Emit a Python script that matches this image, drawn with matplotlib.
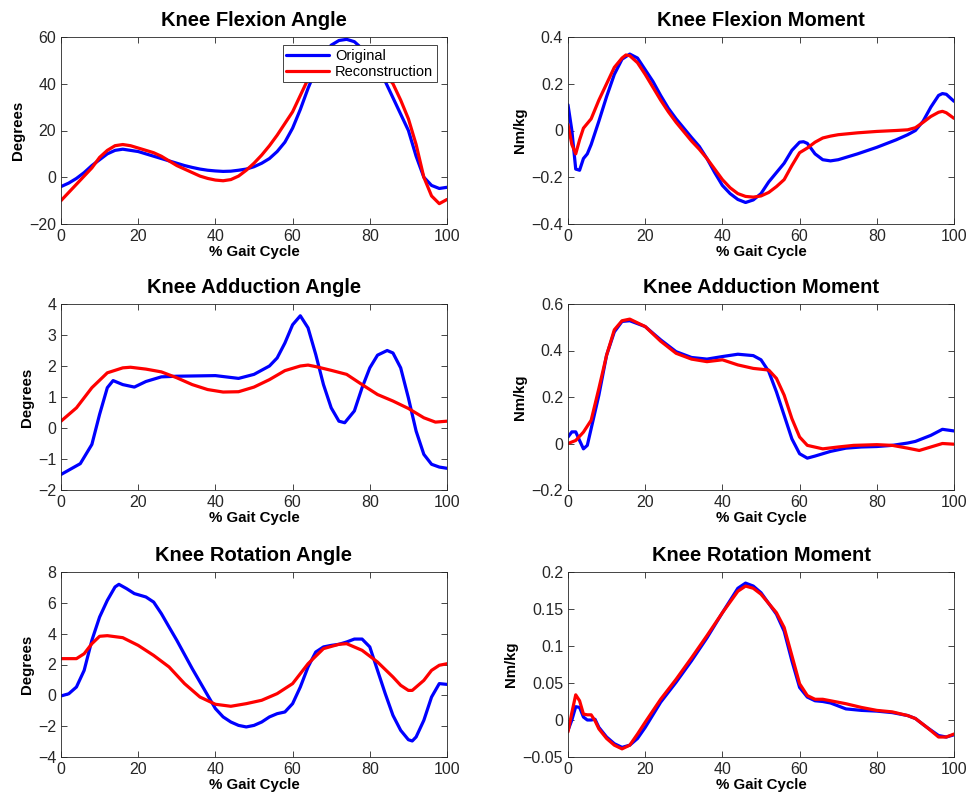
import matplotlib
matplotlib.use("Agg")
import matplotlib.pyplot as plt

plt.rcParams['font.family'] = ['Liberation Sans', 'DejaVu Sans']

# ---------------- data ----------------
titles = ["Knee Flexion Angle", "Knee Flexion Moment",
          "Knee Adduction Angle", "Knee Adduction Moment",
          "Knee Rotation Angle", "Knee Rotation Moment"]
ylabels = ["Degrees", "Nm/kg", "Degrees", "Nm/kg", "Degrees", "Nm/kg"]
xlabel_text = "% Gait Cycle"
legend_labels = ["Original", "Reconstruction"]
xticks = [0, 20, 40, 60, 80, 100]

# Knee Flexion Angle
fa_x_orig = [0, 2, 4, 6, 8, 10, 12, 14, 16, 18, 20, 22, 24, 26, 28, 30, 32, 34, 36, 38, 40, 42, 44, 46, 48,
             50, 52, 54, 56, 58, 60, 62, 64, 66, 68, 70, 72, 74, 76, 78, 80, 82, 84, 86, 88, 90, 92, 94, 96, 98, 100]
fa_y_orig = [-4, -2.5, -0.5, 2, 5, 7.5, 10, 11.5, 12, 11.5, 11, 10, 9, 8, 7, 6, 5, 4.2, 3.5, 3, 2.7, 2.5, 2.6, 3, 3.5,
             4.5, 6, 8, 11, 15, 21, 29, 38, 46, 52.5, 56.5, 58.5, 59, 58, 55, 51, 46, 41, 34, 27, 20, 9, 0, -3.5, -4.8, -4.3]
fa_x_rec = [0, 2, 4, 6, 8, 10, 12, 14, 16, 18, 20, 22, 24, 26, 28, 30, 32, 34, 36, 38, 40, 42, 44, 46, 48,
            50, 52, 54, 56, 58, 60, 62, 64, 66, 68, 70, 72, 74, 76, 78, 80, 82, 84, 86, 88, 90, 92, 94, 96, 98, 100]
fa_y_rec = [-10, -6.5, -3, 0.5, 4, 8.5, 11.5, 13.5, 14, 13.5, 12.5, 11.5, 10.5, 9, 7, 5, 3.5, 2, 0.5, -0.5, -1.2, -1.5, -1, 0.5, 3,
            6, 9.5, 13.5, 18, 23, 28, 35, 42, 47.5, 51.5, 54, 55.3, 55.6, 55, 53.5, 51, 47.5, 44, 40, 33, 25, 14, 0, -8, -11.3, -9.5]

# Knee Flexion Moment
fm_x_orig = [0, 1, 2, 3, 4, 5, 6, 8, 10, 12, 14, 16, 18, 20, 22, 24, 26, 28, 30, 32, 34, 36, 38, 40, 42, 44, 46, 48,
             50, 52, 54, 56, 58, 60, 61, 62, 64, 66, 68, 70, 75, 80, 85, 88, 90, 92, 94, 96, 97, 98, 100]
fm_y_orig = [0.11, 0.0, -0.165, -0.17, -0.12, -0.1, -0.06, 0.04, 0.145, 0.24, 0.305, 0.327, 0.31, 0.26, 0.21, 0.15, 0.095,
             0.05, 0.01, -0.03, -0.068, -0.12, -0.18, -0.235, -0.27, -0.295, -0.308, -0.297,
             -0.27, -0.22, -0.18, -0.14, -0.085, -0.05, -0.048, -0.055, -0.1, -0.125, -0.13, -0.125, -0.1, -0.072, -0.04,
             -0.018, 0.0, 0.04, 0.1, 0.15, 0.158, 0.155, 0.125]
fm_x_rec = [0, 1, 2, 3, 4, 5, 6, 8, 10, 12, 14, 15, 16, 18, 20, 22, 24, 26, 28, 30, 32, 34, 36, 38, 40, 42, 44, 46, 48,
            50, 52, 54, 56, 58, 60, 62, 64, 66, 68, 70, 75, 80, 85, 88, 90, 92, 94, 96, 97, 98, 100]
fm_y_rec = [0.025, -0.06, -0.1, -0.04, 0.01, 0.03, 0.05, 0.13, 0.2, 0.27, 0.31, 0.323, 0.32, 0.29, 0.24, 0.185, 0.13, 0.08,
            0.035, -0.005, -0.045, -0.08, -0.12, -0.165, -0.21, -0.245, -0.27, -0.282, -0.285,
            -0.28, -0.265, -0.24, -0.21, -0.15, -0.095, -0.075, -0.05, -0.032, -0.024, -0.018, -0.01, -0.004, 0.0,
            0.003, 0.012, 0.035, 0.06, 0.078, 0.082, 0.076, 0.052]

# Knee Adduction Angle
aa_x_orig = [0, 5, 8, 10, 12, 13.5, 16, 19, 22, 26, 30, 40, 46, 50, 54, 56, 58, 60, 62, 64, 66, 68, 70, 72, 73.5,
             76, 78, 80, 82, 84.5, 86, 88, 90, 92, 94, 96, 98, 100]
aa_y_orig = [-1.5, -1.15, -0.53, 0.44, 1.3, 1.53, 1.4, 1.32, 1.5, 1.65, 1.67, 1.69, 1.6, 1.73, 2.0, 2.26, 2.74, 3.33, 3.62,
             3.23, 2.37, 1.4, 0.65, 0.22, 0.17, 0.55, 1.3, 1.94, 2.35, 2.5, 2.42, 1.94, 0.97, -0.1, -0.85, -1.17, -1.26, -1.3]
aa_x_rec = [0, 4, 8, 12, 16, 18, 22, 26, 30, 34, 38, 42, 46, 50, 54, 58, 62, 64, 66, 70, 74, 78, 82, 86, 90, 94, 97, 100]
aa_y_rec = [0.22, 0.65, 1.3, 1.78, 1.94, 1.96, 1.9, 1.81, 1.62, 1.4, 1.24, 1.16, 1.17, 1.32, 1.56, 1.85, 2.0, 2.03, 1.98,
            1.86, 1.73, 1.4, 1.08, 0.87, 0.63, 0.33, 0.19, 0.22]

# Knee Adduction Moment
am_x_orig = [0, 1, 2, 3, 4, 5, 6, 8, 10, 12, 14, 16, 20, 24, 28, 32, 36, 40, 44, 48, 50, 52, 54, 56, 58, 60, 62, 64,
             68, 72, 76, 80, 84, 88, 90, 94, 97, 100]
am_y_orig = [0.028, 0.05, 0.05, 0.013, -0.023, -0.008, 0.064, 0.208, 0.38, 0.48, 0.525, 0.528, 0.503, 0.446, 0.395, 0.37,
             0.363, 0.374, 0.384, 0.378, 0.36, 0.31, 0.222, 0.121, 0.02, -0.044, -0.063, -0.054, -0.034, -0.02, -0.015,
             -0.013, -0.008, 0.002, 0.009, 0.035, 0.061, 0.054]
am_x_rec = [0, 2, 4, 6, 8, 10, 12, 14, 16, 20, 24, 28, 32, 36, 40, 44, 48, 52, 54, 56, 58, 60, 62, 66, 70, 74, 80, 84,
            88, 91, 94, 97, 100]
am_y_rec = [0.0, 0.013, 0.049, 0.1, 0.237, 0.38, 0.489, 0.528, 0.535, 0.503, 0.44, 0.388, 0.363, 0.352, 0.36, 0.338, 0.323,
            0.316, 0.28, 0.208, 0.107, 0.028, -0.008, -0.023, -0.015, -0.008, -0.005, -0.008, -0.02, -0.03, -0.015, 0.0,
            -0.003]

# Knee Rotation Angle
ra_x_orig = [0, 2, 4, 6, 8, 10, 12, 14, 15, 17, 19, 22, 24, 26, 28, 30, 34, 38, 40, 42, 44, 46, 48, 50, 52, 54, 56, 58,
             60, 62, 64, 66, 68, 70, 72, 74, 76, 78, 80, 82, 84, 86, 88, 90, 91, 92, 94, 96, 98, 100]
ra_y_orig = [-0.04, 0.1, 0.54, 1.62, 3.57, 5.08, 6.16, 7.03, 7.2, 6.92, 6.6, 6.38, 6.05, 5.3, 4.43, 3.57, 1.73, 0.0, -0.86,
             -1.4, -1.73, -1.95, -2.05, -1.95, -1.73, -1.4, -1.19, -1.08, -0.54, 0.54, 1.84, 2.81, 3.14, 3.24, 3.31, 3.46,
             3.65, 3.65, 3.14, 1.62, 0.11, -1.3, -2.27, -2.88, -2.96, -2.7, -1.62, -0.11, 0.76, 0.71]
ra_x_rec = [0, 4, 6, 8, 10, 12, 16, 20, 24, 28, 32, 36, 40, 44, 48, 52, 56, 60, 64, 68, 72, 74, 78, 82, 86, 88, 90, 91,
            94, 96, 98, 100]
ra_y_rec = [2.38, 2.38, 2.7, 3.35, 3.83, 3.87, 3.74, 3.24, 2.59, 1.84, 0.76, -0.11, -0.58, -0.71, -0.54, -0.32, 0.11, 0.76,
            2.05, 3.03, 3.31, 3.35, 2.92, 2.16, 1.19, 0.65, 0.32, 0.32, 0.97, 1.62, 1.95, 2.05]

# Knee Rotation Moment
rm_x_orig = [0, 1, 2, 3, 4, 5, 6, 7, 8, 10, 12, 14, 16, 18, 20, 24, 28, 32, 36, 40, 44, 46, 48, 50, 54, 56, 58, 60, 62,
             64, 66, 68, 72, 76, 80, 84, 88, 90, 93, 96, 98, 100]
rm_y_orig = [-0.014, 0.0, 0.018, 0.017, 0.004, 0.0, 0.0, 0.001, -0.01, -0.023, -0.032, -0.037, -0.034, -0.025, -0.01,
             0.024, 0.051, 0.08, 0.111, 0.145, 0.178, 0.185, 0.181, 0.172, 0.143, 0.12, 0.08, 0.044, 0.031, 0.026, 0.025,
             0.023, 0.015, 0.013, 0.012, 0.010, 0.006, 0.002, -0.01, -0.021, -0.023, -0.02]
rm_x_rec = [0, 1, 2, 3, 4, 5, 6, 7, 8, 10, 12, 14, 16, 18, 20, 24, 28, 32, 36, 40, 44, 46, 48, 50, 54, 56, 58, 60, 62,
            64, 66, 68, 72, 76, 80, 84, 88, 90, 93, 96, 98, 100]
rm_y_rec = [-0.016, 0.01, 0.034, 0.026, 0.008, 0.007, 0.007, -0.001, -0.012, -0.025, -0.034, -0.039, -0.034, -0.019,
            -0.003, 0.028, 0.055, 0.084, 0.114, 0.145, 0.174, 0.181, 0.178, 0.17, 0.145, 0.125, 0.087, 0.049, 0.033,
            0.028, 0.028, 0.026, 0.022, 0.017, 0.013, 0.011, 0.006, 0.002, -0.01, -0.023, -0.023, -0.019]

series = [
    (fa_x_orig, fa_y_orig, fa_x_rec, fa_y_rec),
    (fm_x_orig, fm_y_orig, fm_x_rec, fm_y_rec),
    (aa_x_orig, aa_y_orig, aa_x_rec, aa_y_rec),
    (am_x_orig, am_y_orig, am_x_rec, am_y_rec),
    (ra_x_orig, ra_y_orig, ra_x_rec, ra_y_rec),
    (rm_x_orig, rm_y_orig, rm_x_rec, rm_y_rec),
]

yticks_list = [
    [-20, 0, 20, 40, 60],
    [-0.4, -0.2, 0, 0.2, 0.4],
    [-2, -1, 0, 1, 2, 3, 4],
    [-0.2, 0, 0.2, 0.4, 0.6],
    [-4, -2, 0, 2, 4, 6, 8],
    [-0.05, 0, 0.05, 0.1, 0.15, 0.2],
]
ytick_labels_list = [
    ["\u221220", "0", "20", "40", "60"],
    ["\u22120.4", "\u22120.2", "0", "0.2", "0.4"],
    ["\u22122", "\u22121", "0", "1", "2", "3", "4"],
    ["\u22120.2", "0", "0.2", "0.4", "0.6"],
    ["\u22124", "\u22122", "0", "2", "4", "6", "8"],
    ["\u22120.05", "0", "0.05", "0.1", "0.15", "0.2"],
]

# ---------------- layout ----------------
W, H = 970, 799
fig = plt.figure(figsize=(W / 100, H / 100), dpi=100)
col_left = [61 / W, 568 / W]
col_w = 386 / W
rows = [(224, 187), (490, 186), (757, 185)]  # (bottom px, height px)

axcol = '#262626'
for i in range(6):
    r, c = divmod(i, 2)
    bottom_px, h_px = rows[r]
    ax = fig.add_axes([col_left[c], 1 - bottom_px / H, col_w, h_px / H])
    xo, yo, xr, yr = series[i]
    l1, = ax.plot(xo, yo, color=(0, 0, 1), lw=2.3, solid_joinstyle='round', solid_capstyle='round')
    l2, = ax.plot(xr, yr, color=(1, 0, 0), lw=2.3, solid_joinstyle='round', solid_capstyle='round')
    yt = yticks_list[i]
    ax.set_xlim(0, 100)
    ax.set_ylim(yt[0], yt[-1])
    ax.set_xticks(xticks)
    ax.set_xticklabels([str(v) for v in xticks])
    ax.set_yticks(yt)
    ax.set_yticklabels(ytick_labels_list[i])
    ax.tick_params(direction='in', top=True, right=True, length=4, width=0.6,
                   labelsize=11.5, colors=axcol, pad=3.5)
    for sp in ax.spines.values():
        sp.set_color(axcol)
        sp.set_linewidth(0.6)
    ax.set_title(titles[i], fontsize=14.5, fontweight='bold', pad=8)
    ax.set_ylabel(ylabels[i], fontsize=10.8, fontweight='bold', labelpad=3)
    ax.set_xlabel(xlabel_text, fontsize=10.8, fontweight='bold', labelpad=1)
    if i == 0:
        leg = ax.legend([l1, l2], legend_labels, loc='upper right',
                        bbox_to_anchor=(1 - 10 / 386, 1 - 8 / 187), borderaxespad=0,
                        fancybox=False, framealpha=1, edgecolor=axcol, fontsize=10.5,
                        handlelength=2.9, handletextpad=0.45, borderpad=0.25, labelspacing=0.15)
        leg.get_frame().set_linewidth(0.6)

fig.savefig("out.png", dpi=100)
